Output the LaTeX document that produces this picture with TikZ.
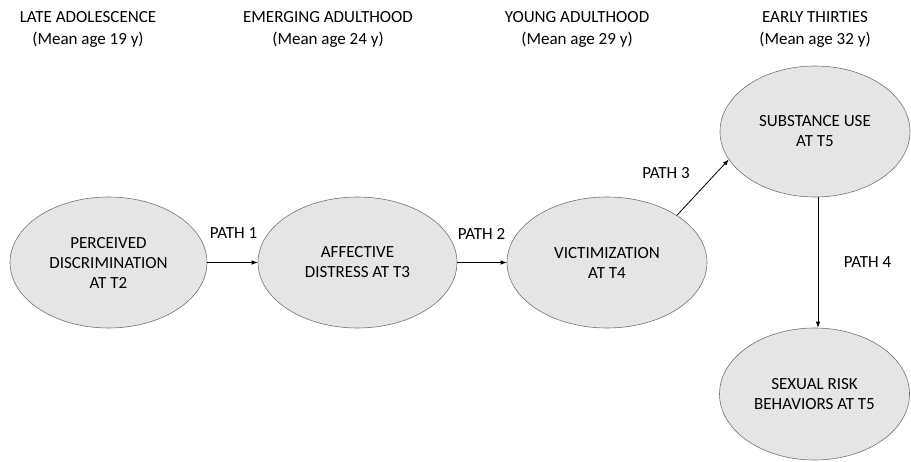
\documentclass[tikz,border=0pt]{standalone}
\usepackage{fontspec}
\setmainfont{Carlito}
\usetikzlibrary{shapes.geometric,arrows.meta}
\begin{document}
\begin{tikzpicture}[x=1pt,y=-1pt,
  stage/.style={ellipse,draw=black!55,fill=black!10,line width=0.6pt,inner sep=0pt,align=center,font=\fontsize{17}{20}\selectfont},
  hdr/.style={align=center,font=\fontsize{17}{22}\selectfont},
  lbl/.style={font=\fontsize{17}{20}\selectfont},
  conn/.style={-{Latex[length=6pt,width=4.5pt]},line width=0.8pt}]
\useasboundingbox (0,0) rectangle (911,462);
\node[hdr] (h1) at (88,29) {LATE ADOLESCENCE\\(Mean age 19 y)};
\node[hdr] (h2) at (328,29) {EMERGING ADULTHOOD\\(Mean age 24 y)};
\node[hdr] (h3) at (577,29) {YOUNG ADULTHOOD\\(Mean age 29 y)};
\node[hdr] (h4) at (815,29) {EARLY THIRTIES\\(Mean age 32 y)};
\node[stage,minimum width=197pt,minimum height=131pt] (a) at (108.5,262.5) {PERCEIVED\\DISCRIMINATION\\AT T2};
\node[stage,minimum width=199pt,minimum height=131pt] (b) at (357.5,262.5) {AFFECTIVE\\DISTRESS AT T3};
\node[stage,minimum width=200pt,minimum height=131pt] (c) at (607,262.5) {VICTIMIZATION\\AT T4};
\node[stage,minimum width=190pt,minimum height=131pt] (d) at (815,131.5) {SUBSTANCE USE\\AT T5};
\node[stage,minimum width=190pt,minimum height=132pt] (e) at (814.5,394) {SEXUAL RISK\\BEHAVIORS AT T5};
\draw[conn] (a) -- (b);
\draw[conn] (b) -- (c);
\draw[conn] (c.34) -- (d.198);
\draw[conn] (d.south) ++(3,0) coordinate (ds) -- (ds |- e.north) coordinate (en);
\node[lbl] (p1) at (233.5,233.5) {PATH 1};
\node[lbl] (p2) at (481.5,233.5) {PATH 2};
\node[lbl] (p3) at (666,173.5) {PATH 3};
\node[lbl] (p4) at (867.5,262.5) {PATH 4};
\end{tikzpicture}
\end{document}
